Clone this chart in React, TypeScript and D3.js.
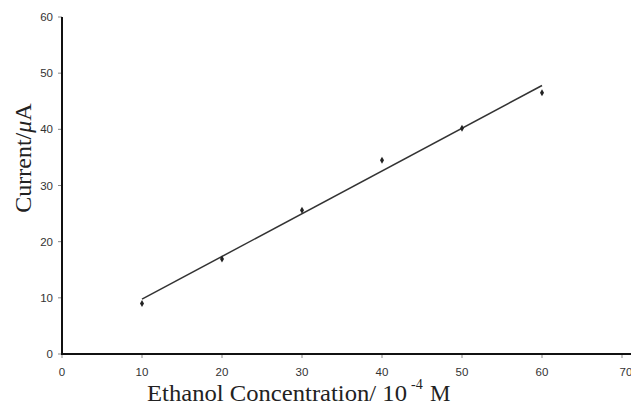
import React, { useEffect, useRef } from 'react';
import * as d3 from 'd3';

// concentration (10^-4 M) and measured current (µA)
const concentrations = [10, 20, 30, 40, 50, 60];
const currents = [9.0, 16.9, 25.6, 34.5, 40.2, 46.5];
const xTicks = [0, 10, 20, 30, 40, 50, 60, 70];
const yTicks = [0, 10, 20, 30, 40, 50, 60];

const W = 631;
const H = 406;
const SERIF = "'Liberation Serif', 'DejaVu Serif', serif";
const SANS = "'Liberation Sans', Arial, sans-serif";

const App: React.FC = () => {
  const svgRef = useRef<SVGSVGElement>(null);

  useEffect(() => {
    if (!svgRef.current) return;
    const svg = d3.select(svgRef.current);
    svg.selectAll('*').remove();

    const x = d3.scaleLinear().domain([0, 70]).range([62, 622]);
    const y = d3.scaleLinear().domain([0, 60]).range([354, 17]);

    svg.append('rect').attr('width', W).attr('height', H).attr('fill', '#fff');

    // least squares fit for the trend line
    const mx = d3.mean(concentrations)!;
    const my = d3.mean(currents)!;
    const slope =
      d3.sum(concentrations, (c, i) => (c - mx) * (currents[i] - my)) /
      d3.sum(concentrations, (c) => (c - mx) ** 2);
    const icpt = my - slope * mx;

    // y ticks + labels
    yTicks.forEach((t) => {
      svg.append('line')
        .attr('x1', x(0) - 4).attr('x2', x(0))
        .attr('y1', y(t)).attr('y2', y(t))
        .attr('stroke', '#888').attr('stroke-width', 1);
      svg.append('text')
        .attr('x', 53).attr('y', y(t))
        .attr('text-anchor', 'end')
        .attr('dominant-baseline', 'central')
        .style('font-family', SANS)
        .style('font-size', '11.5px')
        .style('fill', '#333')
        .text(t);
    });

    // x ticks + labels
    xTicks.forEach((t) => {
      svg.append('line')
        .attr('x1', x(t)).attr('x2', x(t))
        .attr('y1', y(0)).attr('y2', y(0) + 4)
        .attr('stroke', '#888').attr('stroke-width', 1);
      svg.append('text')
        .attr('x', x(t) + (t === 70 ? 4 : 0)).attr('y', 372)
        .attr('text-anchor', 'middle')
        .attr('dominant-baseline', 'central')
        .style('font-family', SANS)
        .style('font-size', '11.5px')
        .style('fill', '#333')
        .text(t);
    });

    // axes
    svg.append('line')
      .attr('x1', x(0)).attr('x2', x(0))
      .attr('y1', y(60)).attr('y2', y(0))
      .attr('stroke', '#111').attr('stroke-width', 2);
    svg.append('line')
      .attr('x1', x(0) - 1).attr('x2', W)
      .attr('y1', y(0)).attr('y2', y(0))
      .attr('stroke', '#111').attr('stroke-width', 2);

    // trend line
    const x0 = concentrations[0];
    const x1 = concentrations[concentrations.length - 1];
    svg.append('line')
      .attr('x1', x(x0)).attr('y1', y(icpt + slope * x0))
      .attr('x2', x(x1)).attr('y2', y(icpt + slope * x1))
      .attr('stroke', '#333').attr('stroke-width', 1.5);

    // points
    svg.selectAll('path.pt')
      .data(concentrations)
      .enter()
      .append('path')
      .attr('class', 'pt')
      .attr('d', d3.symbol(d3.symbolDiamond, 14) as any)
      .attr('transform', (c, i) => `translate(${x(c)},${y(currents[i])})`)
      .attr('fill', '#222');

    // y label
    const yl = svg.append('text')
      .attr('transform', `translate(31,158) rotate(-90)`)
      .attr('text-anchor', 'middle')
      .style('font-family', SERIF)
      .style('font-size', '24px')
      .style('fill', '#222');
    yl.append('tspan').text('Current/');
    yl.append('tspan').style('font-style', 'italic').text('\u03bc');
    yl.append('tspan').text('A');

    // x label (stretched a little, like the scanned original)
    const labelStyle = (t: any, size: number) =>
      t.style('font-family', SERIF).style('font-size', `${size}px`).style('fill', '#222');
    labelStyle(
      svg.append('text')
        .attr('x', 147).attr('y', 401)
        .attr('textLength', 260)
        .attr('lengthAdjust', 'spacingAndGlyphs'),
      23
    ).text('Ethanol Concentration/ 10');
    labelStyle(svg.append('text').attr('x', 411).attr('y', 389), 14).text('-4');
    labelStyle(svg.append('text').attr('x', 430).attr('y', 401), 23).text('M');
  }, []);

  return (
    <svg
      ref={svgRef}
      width={W}
      height={H}
      style={{ position: 'absolute', left: 0, top: 0, display: 'block' }}
    />
  );
};

export default App;
